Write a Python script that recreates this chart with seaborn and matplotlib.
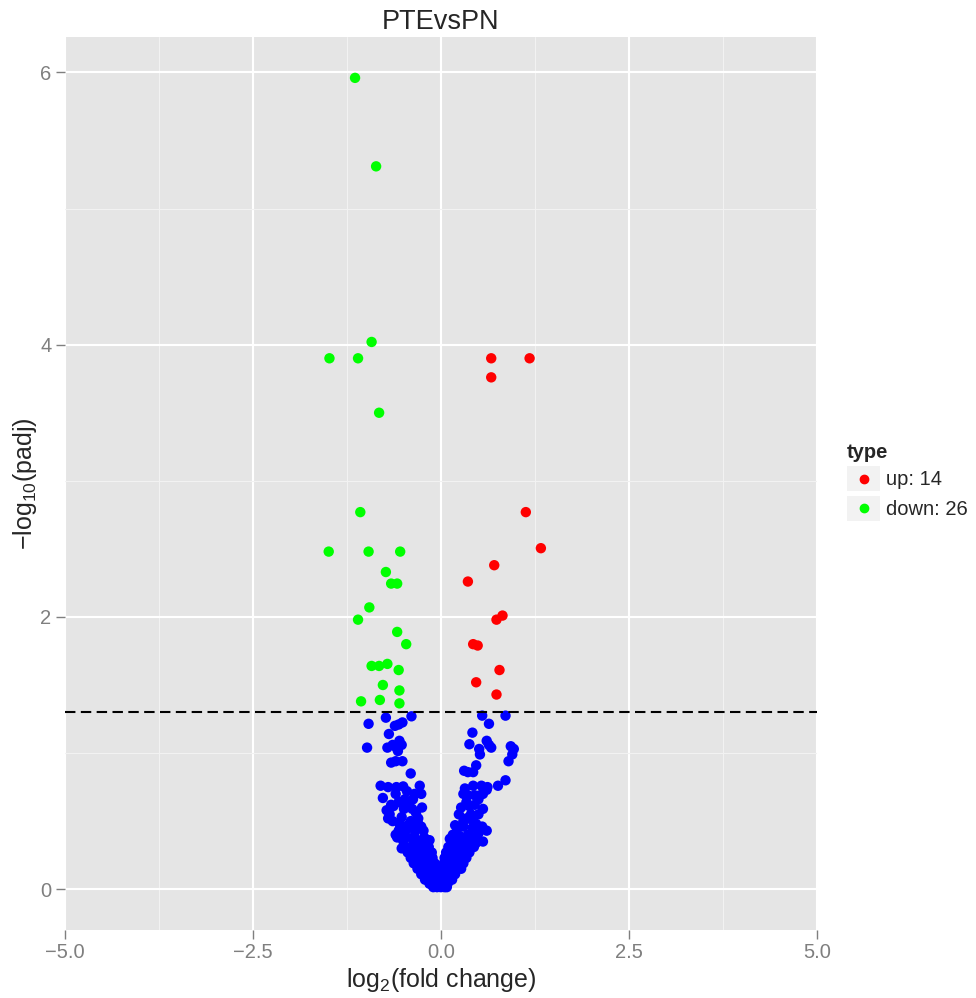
import matplotlib
matplotlib.use("Agg")
import matplotlib.pyplot as plt
import seaborn as sns
import numpy as np
import pandas as pd
from matplotlib.legend_handler import HandlerBase
from matplotlib.patches import Rectangle
from matplotlib.lines import Line2D
from matplotlib.ticker import MultipleLocator

# up-regulated genes (red)
up_x = [0.67, 1.18, 0.67, 1.13, 1.33, 0.71, 0.36, 0.74, 0.82, 0.43, 0.49, 0.78, 0.47, 0.74]
up_y = [3.90, 3.90, 3.76, 2.77, 2.505, 2.38, 2.26, 1.98, 2.01, 1.80, 1.79, 1.61, 1.52, 1.43]

# down-regulated genes (green)
down_x = [-1.14, -0.86, -0.92, -1.48, -1.10, -0.82, -1.07, -1.49, -0.96, -0.54, -0.73, -0.66, -0.58,
          -0.95, -1.10, -0.58, -0.46, -0.92, -0.82, -0.71, -0.56, -0.77, -0.55, -1.06, -0.81, -0.55]
down_y = [5.96, 5.31, 4.02, 3.90, 3.90, 3.50, 2.77, 2.48, 2.48, 2.48, 2.33, 2.245, 2.245,
          2.07, 1.98, 1.89, 1.80, 1.64, 1.64, 1.655, 1.61, 1.50, 1.46, 1.38, 1.39, 1.365]

# not significant (blue), read band by band
upper_left_x = [-0.73, -0.39, -0.96, -0.61, -0.51, -0.56, -0.69, -0.98, -0.71, -0.64, -0.59, -0.55,
                -0.52, -0.57, -0.66, -0.60, -0.51, -0.40]
upper_left_y = [1.26, 1.27, 1.215, 1.20, 1.225, 1.21, 1.14, 1.04, 1.04, 1.06, 1.04, 1.09,
                1.06, 1.015, 0.93, 0.94, 0.94, 0.85]
upper_right_x = [0.55, 0.86, 0.64, 0.42, 0.38, 0.61, 0.51, 0.52, 0.67, 0.64, 0.93, 0.97, 0.95,
                 0.90, 0.47, 0.43, 0.31, 0.36, 0.86]
upper_right_y = [1.275, 1.275, 1.215, 1.15, 1.065, 1.09, 1.03, 0.99, 1.04, 1.06, 1.05, 1.03, 0.99,
                 0.94, 0.91, 0.86, 0.87, 0.86, 0.80]
mid_left_x = [-0.80, -0.70, -0.59, -0.50, -0.28, -0.77, -0.48, -0.37, -0.26, -0.35, -0.72, -0.63,
              -0.49, -0.38, -0.25, -0.64, -0.52, -0.40, -0.30, -0.26, -0.56, -0.45, -0.34, -0.23,
              -0.60, -0.50, -0.37, -0.26, -0.15, -0.58, -0.47, -0.35, -0.22, -0.68, -0.55, -0.44,
              -0.66, -0.56, -0.43, -0.33, -0.60, -0.45, -0.70, -0.36, -0.52, -0.30]
mid_left_y = [0.76, 0.75, 0.75, 0.755, 0.76, 0.67, 0.66, 0.66, 0.70, 0.70, 0.58, 0.61,
              0.59, 0.59, 0.60, 0.50, 0.53, 0.50, 0.52, 0.46, 0.43, 0.44, 0.43, 0.43,
              0.40, 0.355, 0.36, 0.355, 0.36, 0.38, 0.39, 0.39, 0.38, 0.55, 0.48, 0.47,
              0.62, 0.64, 0.62, 0.56, 0.70, 0.72, 0.52, 0.46, 0.30, 0.48]
mid_right_x = [0.76, 0.32, 0.43, 0.54, 0.56, 0.36, 0.45, 0.61, 0.52, 0.56, 0.27, 0.38, 0.30,
               0.41, 0.47, 0.19, 0.30, 0.16, 0.25, 0.36, 0.50, 0.61, 0.14, 0.25, 0.36, 0.47,
               0.56, 0.12, 0.22, 0.33, 0.45, 0.24, 0.50, 0.34,
               0.34, 0.45, 0.50, 0.40, 0.21, 0.42, 0.55, 0.30, 0.62]
mid_right_y = [0.76, 0.74, 0.76, 0.76, 0.70, 0.69, 0.69, 0.73, 0.69, 0.59, 0.60, 0.61, 0.50,
               0.51, 0.48, 0.47, 0.46, 0.40, 0.39, 0.40, 0.41, 0.43, 0.33, 0.33, 0.34, 0.34,
               0.35, 0.37, 0.37, 0.38, 0.38, 0.55, 0.55, 0.52,
               0.64, 0.62, 0.66, 0.55, 0.42, 0.45, 0.46, 0.70, 0.75]
low_x = [-0.48, -0.40, -0.32, -0.24, -0.16, 0.10, 0.18, 0.26, 0.34, 0.44,
         -0.44, -0.36, -0.28, -0.20, -0.12, 0.07, 0.14, 0.22, 0.30, 0.38,
         -0.40, -0.33, -0.26, -0.19, -0.11, 0.05, 0.12, 0.19, 0.26, 0.34,
         -0.36, -0.29, -0.22, -0.15, -0.08, 0.04, 0.10, 0.17, 0.24, 0.30,
         -0.31, -0.24, -0.17, -0.10, -0.04, 0.03, 0.09, 0.15, 0.22, 0.27,
         -0.26, -0.19, -0.12, -0.06, 0.02, 0.07, 0.13, 0.19,
         -0.21, -0.14, -0.08, -0.02, 0.03, 0.09, 0.15,
         -0.15, -0.09, -0.03, 0.03, 0.09,
         -0.10, -0.05, 0.00, 0.05, 0.08]
low_y = [0.31] * 10 + [0.27] * 10 + [0.23] * 10 + [0.19] * 10 + [0.15] * 10 + \
        [0.11] * 8 + [0.07] * 7 + [0.04] * 5 + [0.015] * 5

normal_x = upper_left_x + upper_right_x + mid_left_x + mid_right_x + low_x
normal_y = upper_left_y + upper_right_y + mid_left_y + mid_right_y + low_y

df = pd.DataFrame({
    "log2fc": normal_x + up_x + down_x,
    "padj": normal_y + up_y + down_y,
    "type": ["normal"] * len(normal_x) + ["up"] * len(up_x) + ["down"] * len(down_x),
})
colors = {"up": "#FF0000", "down": "#00FF00", "normal": "#0000FF"}

sns.set_style("darkgrid")
plt.rcParams["font.family"] = ["Liberation Sans", "DejaVu Sans"]
plt.rcParams["mathtext.default"] = "regular"

fig = plt.figure(figsize=(9.76, 9.98), dpi=100)
ax = fig.add_axes([0.0662, 0.0681, 0.7709, 0.8948])
ax.set_facecolor("#E5E5E5")

sns.scatterplot(data=df, x="log2fc", y="padj", hue="type", palette=colors,
                hue_order=["normal", "up", "down"], s=56, linewidth=0,
                legend=False, ax=ax, zorder=3)
ax.axhline(-np.log10(0.05), color="black", linestyle=(0, (5, 2.6)), linewidth=1.5, zorder=4)

ax.set_xlim(-5, 5)
ax.set_ylim(-0.3, 6.26)
ax.set_xticks([-5, -2.5, 0, 2.5, 5])
ax.set_xticklabels(["\u22125.0", "\u22122.5", "0.0", "2.5", "5.0"])
ax.set_yticks([0, 2, 4, 6])
ax.xaxis.set_minor_locator(MultipleLocator(1.25))
ax.yaxis.set_minor_locator(MultipleLocator(1))
ax.grid(which="major", color="white", linewidth=1.5)
ax.grid(which="minor", color="#F2F2F2", linewidth=0.8)
ax.set_axisbelow(True)
for sp in ax.spines.values():
    sp.set_visible(False)
ax.tick_params(which="major", length=6.5, width=1.0, color="#7F7F7F", labelcolor="#7F7F7F",
               labelsize=14.5, pad=3, bottom=True, left=True)
ax.tick_params(which="minor", length=0)

ax.set_title("PTEvsPN", fontsize=19.5, pad=6)
ax.set_xlabel("log$_2$(fold change)", fontsize=18, labelpad=3)
ax.set_ylabel("\u2212log$_{10}$(padj)", fontsize=18, labelpad=1)


class KeyHandler(HandlerBase):
    def create_artists(self, legend, orig, xd, yd, w, h, fontsize, trans):
        bg = Rectangle((-xd, -yd), w, h, facecolor="#F2F2F2", edgecolor="none", transform=trans)
        dot = Line2D([-xd + w / 2], [-yd + h / 2], marker="o", ms=6, linestyle="none",
                     color=orig.get_color(), transform=trans)
        return [bg, dot]


handles = [Line2D([], [], color=colors["up"]), Line2D([], [], color=colors["down"])]
labels = [f"up: {len(up_x)}", f"down: {len(down_x)}"]
leg = fig.legend(handles, labels, title="type", loc="center left",
                 bbox_to_anchor=(847 / 976, 1 - 482 / 998), frameon=False,
                 fontsize=14.5, title_fontproperties={"weight": "bold", "size": 14.5},
                 handler_map={Line2D: KeyHandler()}, handlelength=1.65, handleheight=1.6,
                 labelspacing=0.2, handletextpad=0.3, borderpad=0, borderaxespad=0,
                 alignment="left")

fig.savefig("out.png", dpi=100)
